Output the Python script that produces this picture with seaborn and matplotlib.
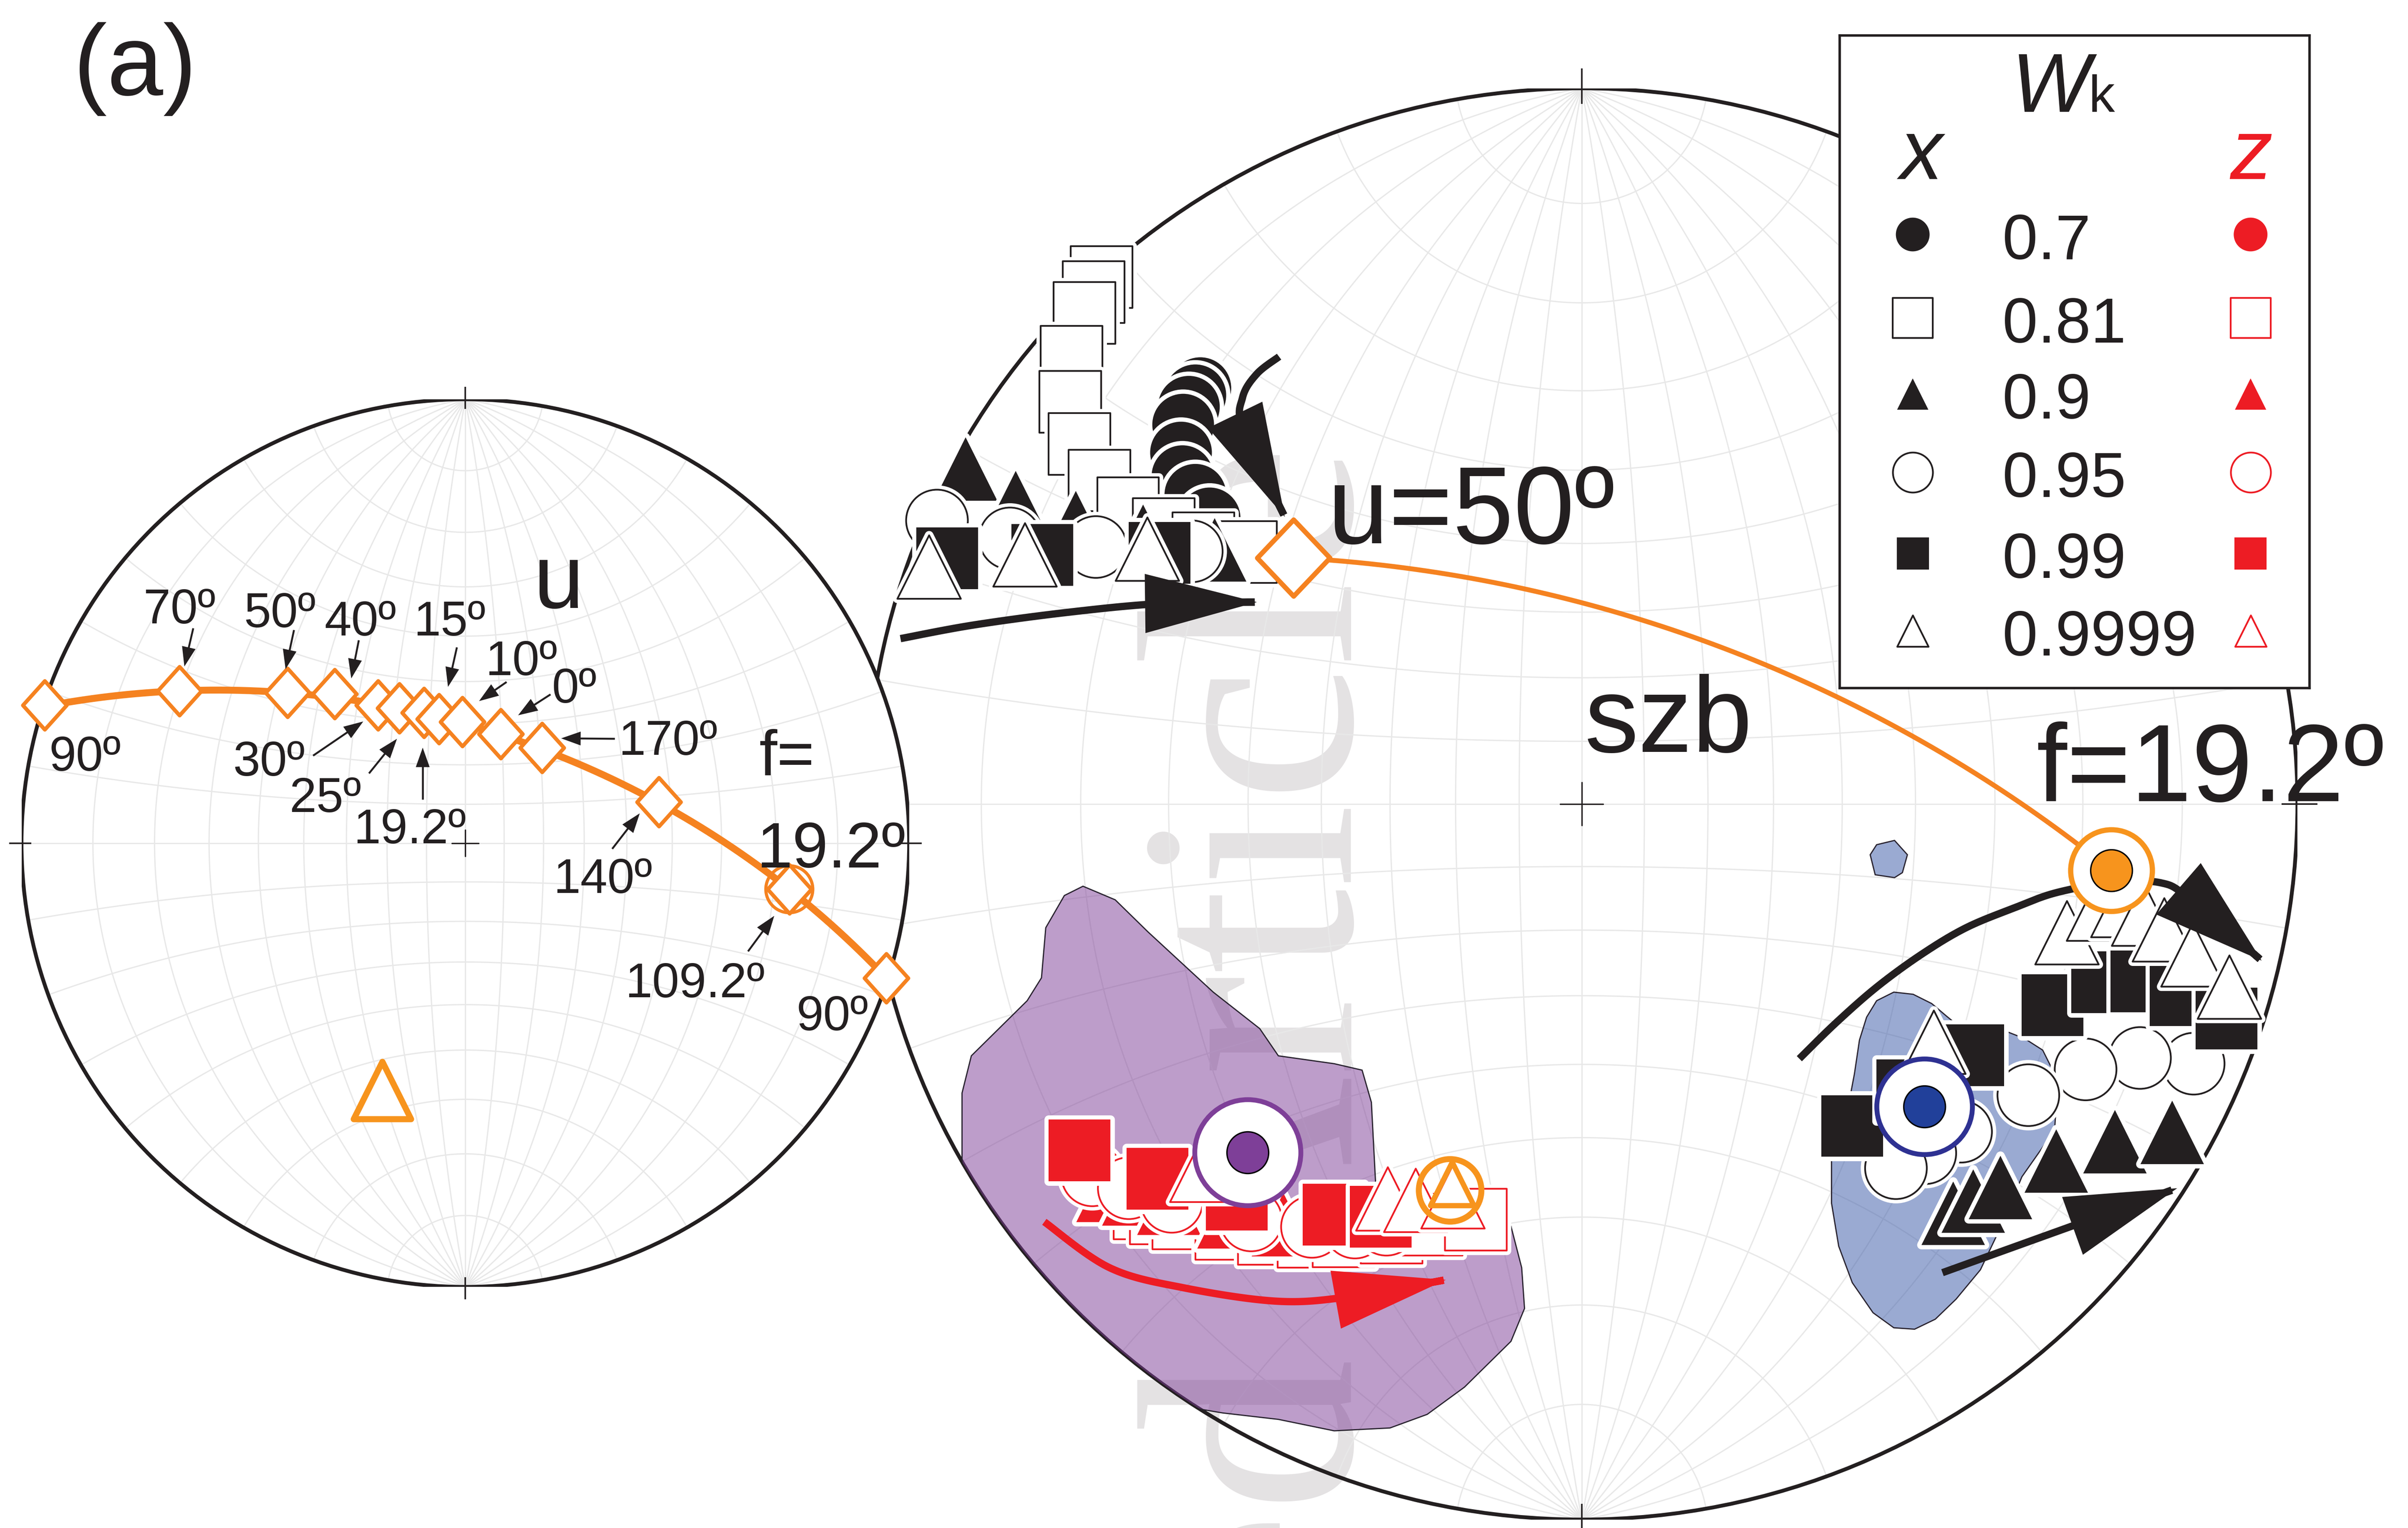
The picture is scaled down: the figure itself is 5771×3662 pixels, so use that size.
import numpy as np
import matplotlib
matplotlib.use("Agg")
import matplotlib.pyplot as plt
import matplotlib.colors as mcolors
import seaborn as sns
from matplotlib import patheffects as pe
from matplotlib.patches import Circle, Polygon, FancyArrowPatch, ArrowStyle
from matplotlib.path import Path

sns.set_theme(style="white")
plt.rcParams["font.family"] = ["Liberation Sans", "DejaVu Sans"]

# ---------------------------------------------------------------------------
# Data (stereographic lower-hemisphere coordinates, primitive radius = 1)
# ---------------------------------------------------------------------------

# Left net: path of the diamond markers for increasing angle u
u_labels = ["90º", "70º", "50º", "40º", "30º", "25º", "19.2º", "15º",
            "10º", "0º", "170º", "140º", "109.2º", "90º"]
u_x = [-0.948, -0.644, -0.401, -0.294, -0.197, -0.149, -0.093, -0.059,
       -0.007, 0.080, 0.173, 0.436, 0.730, 0.948]
u_y = [0.311, 0.343, 0.339, 0.336, 0.311, 0.304, 0.294, 0.280,
       0.273, 0.246, 0.215, 0.093, -0.104, -0.304]
left_triangle = (-0.187, -0.557)

# Right net, x axes (black), upper-left group
x_up_w070 = [(-0.533, 0.581), (-0.540, 0.571), (-0.549, 0.555), (-0.557, 0.530),
             (-0.560, 0.491), (-0.558, 0.458), (-0.540, 0.432), (-0.520, 0.399)]
x_up_w081 = [(-0.671, 0.736), (-0.682, 0.715), (-0.695, 0.686), (-0.713, 0.625),
             (-0.715, 0.562), (-0.702, 0.503), (-0.674, 0.452), (-0.634, 0.413),
             (-0.584, 0.384), (-0.529, 0.364), (-0.469, 0.352)]
x_up_w090 = [(-0.861, 0.468), (-0.791, 0.421), (-0.707, 0.393), (-0.613, 0.374),
             (-0.513, 0.355)]
x_up_w095 = [(-0.901, 0.396), (-0.799, 0.371), (-0.679, 0.359), (-0.545, 0.353)]
x_up_w099 = [(-0.887, 0.343), (-0.754, 0.348), (-0.590, 0.351)]
x_up_w9999 = [(-0.912, 0.331), (-0.778, 0.348), (-0.607, 0.356)]

# Right net, x axes (black), right-hand group
x_rt_w090 = [(0.519, -0.572), (0.547, -0.555), (0.585, -0.536), (0.663, -0.499),
             (0.745, -0.472), (0.825, -0.459)]
x_rt_w095 = [(0.855, -0.363), (0.780, -0.355), (0.704, -0.371), (0.624, -0.407),
             (0.530, -0.458), (0.480, -0.488), (0.439, -0.509)]
x_rt_w099 = [(0.378, -0.450), (0.455, -0.400), (0.547, -0.351), (0.658, -0.281),
             (0.727, -0.249), (0.782, -0.248), (0.837, -0.267), (0.901, -0.300)]
x_rt_w9999 = [(0.678, -0.180), (0.722, -0.147), (0.756, -0.142), (0.785, -0.154),
              (0.814, -0.176), (0.854, -0.211), (0.905, -0.256), (0.492, -0.333)]

# Right net, z axes (red)
z_w081 = [(-0.611, -0.565), (-0.588, -0.572), (-0.557, -0.579), (-0.497, -0.594),
          (-0.437, -0.601), (-0.382, -0.605), (-0.333, -0.604), (-0.266, -0.599),
          (-0.210, -0.588), (-0.148, -0.581)]
z_w090 = [(-0.662, -0.540), (-0.626, -0.545), (-0.577, -0.558), (-0.493, -0.577),
          (-0.417, -0.588)]
z_w095 = [(-0.684, -0.519), (-0.633, -0.537), (-0.573, -0.556), (-0.462, -0.582),
          (-0.377, -0.591), (-0.317, -0.592), (-0.273, -0.588)]
z_w099 = [(-0.702, -0.484), (-0.593, -0.524), (-0.482, -0.553), (-0.347, -0.574),
          (-0.281, -0.577)]
z_w9999 = [(-0.531, -0.512), (-0.271, -0.552), (-0.232, -0.554), (-0.180, -0.549)]

# Mean directions and reference points
u50_point = (-0.403, 0.344)
f192_point = (0.740, -0.093)
x_mean = (0.479, -0.423)
z_mean = (-0.467, -0.487)
z_ref_circle = (-0.184, -0.540)
z_ref_triangle = (-0.181, -0.531)

# Density contours
z_contour = [(-0.697, -0.115), (-0.652, -0.134), (-0.606, -0.179), (-0.515, -0.263),
             (-0.450, -0.314), (-0.424, -0.352), (-0.346, -0.363), (-0.307, -0.372),
             (-0.294, -0.417), (-0.288, -0.532), (-0.255, -0.560), (-0.138, -0.571),
             (-0.099, -0.590), (-0.084, -0.648), (-0.080, -0.705), (-0.099, -0.751),
             (-0.164, -0.815), (-0.216, -0.853), (-0.268, -0.872), (-0.346, -0.876),
             (-0.424, -0.860), (-0.502, -0.851), (-0.567, -0.840), (-0.671, -0.789),
             (-0.801, -0.661), (-0.866, -0.532), (-0.866, -0.404), (-0.853, -0.352),
             (-0.775, -0.275), (-0.755, -0.243), (-0.749, -0.173), (-0.723, -0.128)]
x_contour = [(0.436, -0.263), (0.463, -0.266), (0.489, -0.279), (0.509, -0.296),
             (0.537, -0.319), (0.596, -0.319), (0.619, -0.328), (0.644, -0.344),
             (0.656, -0.368), (0.663, -0.419), (0.661, -0.451), (0.648, -0.474),
             (0.615, -0.521), (0.586, -0.590), (0.557, -0.651), (0.523, -0.692),
             (0.494, -0.720), (0.465, -0.734), (0.436, -0.732), (0.407, -0.711),
             (0.378, -0.669), (0.359, -0.618), (0.349, -0.558), (0.349, -0.497),
             (0.354, -0.465), (0.374, -0.414), (0.381, -0.377), (0.388, -0.330),
             (0.398, -0.298), (0.412, -0.275)]
x_contour_small = [(0.412, -0.057), (0.437, -0.051), (0.455, -0.071), (0.448, -0.096),
                   (0.437, -0.103), (0.410, -0.099), (0.403, -0.071)]

# Rotation paths (arrows)
path_x_upper = [(-0.952, 0.231), (-0.850, 0.250), (-0.716, 0.268), (-0.587, 0.280),
                (-0.454, 0.282)]
path_x_curl = [(-0.423, 0.625), (-0.454, 0.601), (-0.474, 0.568), (-0.473, 0.522),
               (-0.415, 0.401)]
path_x_right = [(0.304, -0.356), (0.354, -0.307), (0.412, -0.256), (0.475, -0.210),
                (0.537, -0.173), (0.605, -0.145), (0.663, -0.124), (0.740, -0.110),
                (0.808, -0.110), (0.850, -0.133), (0.950, -0.219)]
path_x_low = [(0.504, -0.655), (0.832, -0.537)]
path_z = [(-0.751, -0.584), (-0.660, -0.648), (-0.557, -0.676), (-0.424, -0.695),
          (-0.320, -0.688), (-0.190, -0.665)]

# Legend
wk_values = ["0.7", "0.81", "0.9", "0.95", "0.99", "0.9999"]

# ---------------------------------------------------------------------------
# Styling
# ---------------------------------------------------------------------------
ORANGE = "#F58220"
ORANGE_FILL = "#F7941D"
RED = "#ED1C24"
PURPLE = "#7E3F98"
BLUE = "#21409A"
BLUE_RING = "#2E3192"
INK = "#231F20"
GRID = "#E8E8E8"
HALO = 5.0

W_REF, H_REF = 1568.0, 995.0
fig = plt.figure(figsize=(5771 / 300, 3662 / 300), dpi=300)
fig.patch.set_facecolor("white")


def box(cx, cy, r):
    return [(cx - r) / W_REF, 1 - (cy + r) / H_REF, 2 * r / W_REF, 2 * r / H_REF]


def to_plane(v):
    v = np.asarray(v, float)
    return v[..., 0] / (1 - v[..., 2]), v[..., 1] / (1 - v[..., 2])


def to_sphere(p):
    x, y = p
    r2 = x * x + y * y
    return np.array([2 * x, 2 * y, r2 - 1.0]) / (1 + r2)


def full_great_circle(p1, p2, n=400):
    a, b = to_sphere(p1), to_sphere(p2)
    nrm = np.cross(a, b)
    nrm /= np.linalg.norm(nrm)
    h = np.cross(nrm, [0.0, 0.0, 1.0])
    h /= np.linalg.norm(h)
    w = np.cross(nrm, h)
    w /= np.linalg.norm(w)
    if w[2] > 0:
        w = -w
    t = np.linspace(0, np.pi, n)[:, None]
    return to_plane(np.cos(t) * h + np.sin(t) * w)


def great_circle_arc(p1, p2, n=300):
    a, b = to_sphere(p1), to_sphere(p2)
    om = np.arccos(np.clip(np.dot(a, b), -1, 1))
    t = np.linspace(0, 1, n)[:, None]
    v = (np.sin((1 - t) * om) * a + np.sin(t * om) * b) / np.sin(om)
    return to_plane(v)


def catmull_rom(pts, n=24):
    P = np.asarray(pts, float)
    P = np.vstack([P[0], P, P[-1]])
    t = np.linspace(0, 1, n, endpoint=False)[:, None]
    segs = []
    for i in range(1, len(P) - 2):
        p0, p1, p2, p3 = P[i - 1], P[i], P[i + 1], P[i + 2]
        segs.append(0.5 * (2 * p1 + (-p0 + p2) * t
                           + (2 * p0 - 5 * p1 + 4 * p2 - p3) * t ** 2
                           + (-p0 + 3 * p1 - 3 * p2 + p3) * t ** 3))
    segs.append(P[-2][None, :])
    return np.vstack(segs)


def diamond_marker(aspect):
    verts = [(0, 1), (aspect, 0), (0, -1), (-aspect, 0), (0, 1)]
    codes = [Path.MOVETO, Path.LINETO, Path.LINETO, Path.LINETO, Path.CLOSEPOLY]
    return Path(verts, codes)


def draw_net(ax, lw_prim):
    t = np.linspace(0, np.pi, 241)
    for d in range(10, 90, 10):
        dr = np.radians(d)
        for s in (-1, 1):
            v = np.stack([s * np.sin(t) * np.cos(dr), np.cos(t),
                          -np.sin(t) * np.sin(dr)], axis=-1)
            ax.plot(*to_plane(v), color=GRID, lw=0.75, zorder=1)
    phi = np.linspace(np.pi, 2 * np.pi, 241)
    for a in range(10, 180, 10):
        ar = np.radians(a)
        v = np.stack([np.sin(ar) * np.cos(phi), np.full_like(phi, np.cos(ar)),
                      np.sin(ar) * np.sin(phi)], axis=-1)
        ax.plot(*to_plane(v), color=GRID, lw=0.75, zorder=1)
    ax.plot([0, 0], [-1, 1], color=GRID, lw=0.75, zorder=1)
    ax.add_patch(Circle((0, 0), 1, fill=False, ec=INK, lw=lw_prim, zorder=1.5))
    c = 0.03
    ax.plot([-c, c], [0, 0], color=INK, lw=0.8, zorder=1.6)
    ax.plot([0, 0], [-c, c], color=INK, lw=0.8, zorder=1.6)
    for ang in (0, 90, 180, 270):
        ca, sa = np.cos(np.radians(ang)), np.sin(np.radians(ang))
        ax.plot([0.978 * ca, 1.028 * ca], [0.978 * sa, 1.028 * sa], color=INK,
                lw=0.9, zorder=1.6, clip_on=False, solid_capstyle="butt")


def halo_points(ax, pts, marker, size, face, edge="none", lw=0.0, z=4.0):
    effects = [pe.Stroke(linewidth=HALO, foreground="white"), pe.Normal()]
    for x, y in pts:
        sns.scatterplot(x=[x], y=[y], ax=ax, marker=marker, s=size ** 2, color=face,
                        edgecolor=edge, linewidth=lw, zorder=z, legend=False,
                        path_effects=effects, clip_on=False)


def arrow(ax, pts, color, lw, head_len, head_w, z=6, n=24):
    verts = catmull_rom(pts, n)
    style = ArrowStyle("-|>", head_length=head_len, head_width=head_w)
    ax.add_patch(FancyArrowPatch(path=Path(verts), arrowstyle=style, mutation_scale=1,
                                 color=color, lw=lw, zorder=z, joinstyle="miter",
                                 capstyle="butt", clip_on=False))


def bullseye(ax, p, outer, ring, ring_lw, inner, dot, z=8):
    sns.scatterplot(x=[p[0]], y=[p[1]], ax=ax, marker="o", s=outer ** 2, color="white",
                    edgecolor=ring, linewidth=ring_lw, zorder=z, legend=False, clip_on=False)
    sns.scatterplot(x=[p[0]], y=[p[1]], ax=ax, marker="o", s=inner ** 2, color=dot,
                    edgecolor="black", linewidth=0.8, zorder=z + 0.1, legend=False,
                    clip_on=False)


# ---------------------------------------------------------------------------
# Axes
# ---------------------------------------------------------------------------
canvas = fig.add_axes([0, 0, 1, 1], zorder=0)
canvas.set_xlim(0, W_REF)
canvas.set_ylim(H_REF, 0)
canvas.axis("off")

axR = fig.add_axes(box(1030, 523.5, 466), zorder=1)
axL = fig.add_axes(box(303, 549, 289), zorder=2)

canvas.text(88, 45, "(a)", ha="center", va="center", fontsize=58, color=INK)
canvas.text(880, 289, "Accepted Article", rotation=90, rotation_mode="anchor",
            ha="right", va="baseline", fontsize=177, color="#E4E2E3",
            family="Liberation Serif", zorder=0.2)

# ---------------------------- left net --------------------------------------
axL.add_patch(Circle((0, 0), 1, fc="white", ec="none", zorder=0.5))
draw_net(axL, 2.2)

gx, gy = full_great_circle((u_x[1], u_y[1]), (u_x[12], u_y[12]))
sns.lineplot(x=gx, y=gy, sort=False, estimator=None, color=ORANGE, linewidth=4.0,
             ax=axL, zorder=3, legend=False)

sns.scatterplot(x=u_x, y=u_y, ax=axL, marker=diamond_marker(0.9), s=28 ** 2,
                color="white", edgecolor=ORANGE, linewidth=2.2, zorder=4, legend=False,
                clip_on=False)
sns.scatterplot(x=[u_x[12]], y=[u_y[12]], ax=axL, marker="o", s=27 ** 2,
                color="none", edgecolor=ORANGE, linewidth=1.8, zorder=4.5, legend=False)
sns.scatterplot(x=[left_triangle[0]], y=[left_triangle[1]], ax=axL, marker="^",
                s=33 ** 2, color="white", edgecolor=ORANGE_FILL, linewidth=3.5,
                zorder=4, legend=False)

left_notes = [
    ("70º", -0.644, 0.495, "center", (-0.613, 0.484), (-0.633, 0.398)),
    ("50º", -0.418, 0.487, "center", (-0.386, 0.480), (-0.405, 0.392)),
    ("40º", -0.237, 0.468, "center", (-0.240, 0.457), (-0.257, 0.371)),
    ("15º", -0.036, 0.468, "center", (-0.019, 0.441), (-0.039, 0.352)),
    ("10º", 0.126, 0.378, "center", (0.093, 0.363), (0.031, 0.320)),
    ("0º", 0.245, 0.316, "center", (0.192, 0.335), (0.119, 0.288)),
    ("170º", 0.345, 0.199, "left", (0.337, 0.235), (0.216, 0.236)),
    ("30º", -0.442, 0.152, "center", (-0.343, 0.197), (-0.230, 0.274)),
    ("25º", -0.316, 0.070, "center", (-0.217, 0.157), (-0.154, 0.235)),
    ("19.2º", -0.125, 0.000, "center", (-0.096, 0.098), (-0.096, 0.215)),
    ("140º", 0.310, -0.112, "center", (0.331, -0.013), (0.393, 0.067)),
    ("109.2º", 0.517, -0.347, "center", (0.637, -0.244), (0.696, -0.164)),
    ("90º", -0.857, 0.163, "center", None, None),
    ("90º", 0.827, -0.422, "center", None, None),
]
for txt, tx, ty, ha, tail, tip in left_notes:
    axL.text(tx, ty, txt, ha=ha, va="baseline", fontsize=28, color=INK, zorder=6)
    if tail is not None:
        arrow(axL, [tail, tip], INK, 1.1, 9, 3.2, z=5, n=4)

axL.text(0.211, 0.530, "u", ha="center", va="baseline", fontsize=52, color=INK, zorder=6)
axL.text(0.725, 0.152, "f=", ha="center", va="baseline", fontsize=37, color=INK, zorder=6)
axL.text(0.824, -0.055, "19.2º", ha="center", va="baseline", fontsize=37, color=INK,
         zorder=6, clip_on=False)

# ---------------------------- right net -------------------------------------
draw_net(axR, 2.2)
clip_disc = Circle((0, 0), 1, transform=axR.transData)
for poly, col in ((z_contour, "#7D3D97"), (x_contour, "#3757A7"),
                  (x_contour_small, "#3757A7")):
    patch = Polygon(poly, closed=True, fc=mcolors.to_rgba(col, 0.5), ec="#2A2430",
                    lw=0.7, zorder=2)
    axR.add_patch(patch)
    patch.set_clip_path(clip_disc)

ax_, ay_ = great_circle_arc(u50_point, f192_point)
sns.lineplot(x=ax_, y=ay_, sort=False, estimator=None, color=ORANGE, linewidth=2.8,
             ax=axR, zorder=3, legend=False)

SQ, CI, TR = 35.5, 35.5, 36.5
# upper-left x group
halo_points(axR, x_up_w070, "o", CI, INK)
halo_points(axR, x_up_w081, "s", SQ, "white", INK, 1.0)
halo_points(axR, x_up_w090, "^", TR, INK)
halo_points(axR, x_up_w095, "o", CI, "white", INK, 1.0)
halo_points(axR, x_up_w099, "s", SQ, INK)
halo_points(axR, x_up_w9999, "^", TR, "white", INK, 1.0)
# right x group
halo_points(axR, x_rt_w090, "^", TR, INK)
halo_points(axR, x_rt_w095, "o", CI, "white", INK, 1.0)
halo_points(axR, x_rt_w099, "s", SQ, INK)
halo_points(axR, x_rt_w9999, "^", TR, "white", INK, 1.0)
# z group
halo_points(axR, z_w081, "s", SQ, "white", RED, 1.0)
halo_points(axR, z_w090, "^", TR, RED)
halo_points(axR, z_w095, "o", CI, "white", RED, 1.0)
halo_points(axR, z_w099, "s", SQ, RED)
halo_points(axR, z_w9999, "^", TR, "white", RED, 1.0)

arrow(axR, path_x_upper, INK, 4.2, 54, 14.3)
arrow(axR, path_x_curl, INK, 4.2, 55, 14.6)
arrow(axR, path_x_right, INK, 4.2, 54, 16.7)
arrow(axR, path_x_low, INK, 4.2, 54, 14.9)
arrow(axR, path_z, RED, 4.2, 54, 14.2)

sns.scatterplot(x=[u50_point[0]], y=[u50_point[1]], ax=axR, marker=diamond_marker(0.95),
                s=44 ** 2, color="white", edgecolor=ORANGE, linewidth=2.8, zorder=7,
                legend=False)

sns.scatterplot(x=[z_ref_circle[0]], y=[z_ref_circle[1]], ax=axR, marker="o",
                s=36 ** 2, color="none", edgecolor=ORANGE_FILL, linewidth=3.4,
                zorder=7.5, legend=False)
sns.scatterplot(x=[z_ref_triangle[0]], y=[z_ref_triangle[1]], ax=axR, marker="^",
                s=25 ** 2, color="none", edgecolor=ORANGE_FILL, linewidth=3.0,
                zorder=7.5, legend=False)

bullseye(axR, z_mean, 61, PURPLE, 2.8, 24, PURPLE)
bullseye(axR, x_mean, 55, BLUE_RING, 2.8, 24, BLUE)
bullseye(axR, f192_point, 47, ORANGE_FILL, 3.0, 24, ORANGE_FILL)

axR.text(-0.355, 0.364, "u=50º", ha="left", va="baseline", fontsize=63, color=INK,
         zorder=9)
axR.text(0.004, 0.0725, "szb", ha="left", va="baseline", fontsize=62, color=INK,
         zorder=9)
axR.text(0.635, 0.004, "f=19.2º", ha="left", va="baseline", fontsize=63, color=INK,
         zorder=9, clip_on=False)

for ax in (axR, axL):
    ax.set_xlim(-1, 1)
    ax.set_ylim(-1, 1)
    ax.axis("off")

# ---------------------------- legend box ------------------------------------
lx0, lx1, ly0, ly1 = 1198.0, 1504.0, 23.0, 448.0
lax = fig.add_axes([lx0 / W_REF, 1 - ly1 / H_REF, (lx1 - lx0) / W_REF, (ly1 - ly0) / H_REF],
                   zorder=3)
lax.set_facecolor("white")
lax.set_xticks([])
lax.set_yticks([])
for sp in lax.spines.values():
    sp.set_visible(True)
    sp.set_color(INK)
    sp.set_linewidth(1.4)

row_y = [152.7, 207.0, 256.6, 307.5, 360.3, 410.9]
row_marker = ["o", "s", "^", "o", "s", "^"]
row_filled = [True, False, True, False, True, False]
row_size = [19.4, 23.0, 18.0, 23.0, 18.5, 18.0]
for val, yy, mk, filled, ms in zip(wk_values, row_y, row_marker, row_filled, row_size):
    for xx, col in ((1245.5, INK), (1465.5, RED)):
        if filled:
            sns.scatterplot(x=[xx], y=[yy], ax=lax, marker=mk, s=ms ** 2, color=col,
                            edgecolor="none", linewidth=0, legend=False, zorder=3)
        else:
            sns.scatterplot(x=[xx], y=[yy], ax=lax, marker=mk, s=ms ** 2, color="white",
                            edgecolor=col, linewidth=1.0, legend=False, zorder=3)
    lax.text(1304, yy + 16, val, ha="left", va="baseline", fontsize=36.5, color=INK)

lax.text(1361, 72.7, "W", ha="right", va="baseline", fontsize=48, style="italic",
         color=INK)
lax.text(1360, 72.7, "k", ha="left", va="baseline", fontsize=30, color=INK)
lax.text(1251, 116.5, "x", ha="center", va="baseline", fontsize=49, style="italic",
         color=INK)
lax.text(1466, 116.5, "z", ha="center", va="baseline", fontsize=49, style="italic",
         color=RED)
lax.set_xlim(lx0, lx1)
lax.set_ylim(ly1, ly0)
lax.set_xlabel("")
lax.set_ylabel("")

fig.savefig("out.png", dpi=300, facecolor="white")
